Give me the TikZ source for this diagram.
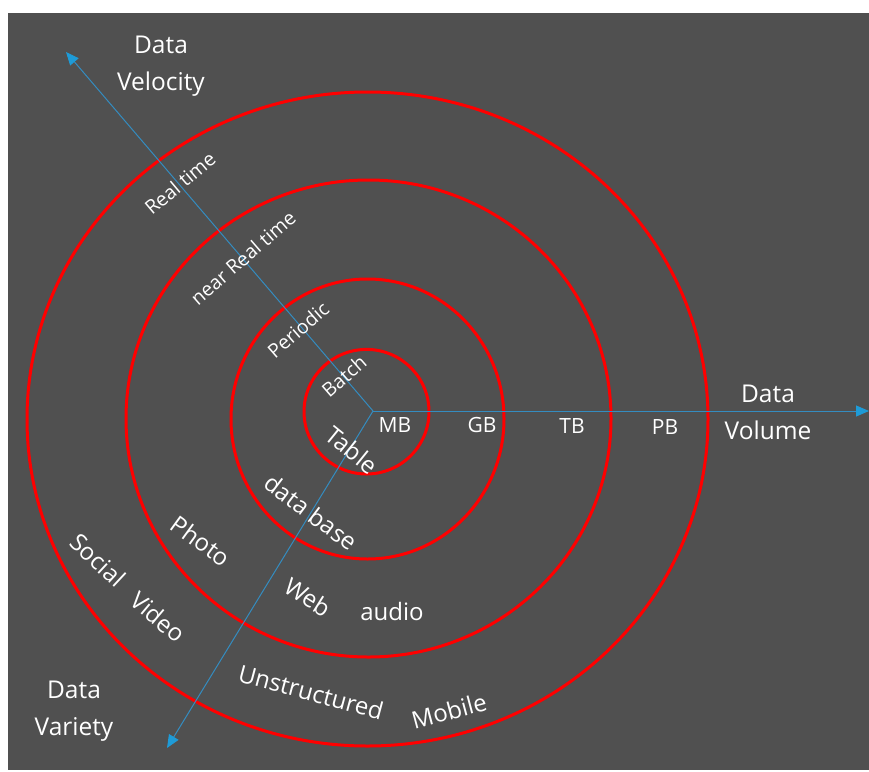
\documentclass[tikz,border=0pt]{standalone}
\usepackage{fontspec}
\setmainfont{Open Sans}
\usetikzlibrary{arrows.meta}
\definecolor{panel}{RGB}{80,80,80}
\definecolor{ring}{RGB}{255,0,0}
\definecolor{axisline}{RGB}{52,140,192}
\definecolor{axistip}{RGB}{30,155,215}
\tikzset{
  ringline/.style={draw=ring, line width=3pt},
  axisarrow/.style={draw=axisline, line width=1pt,
    -{Triangle[length=13pt,width=11pt,fill=axistip,color=axistip]}},
  smalllabel/.style={text=white, font=\fontsize{19.5}{22}\selectfont, inner sep=0pt},
  unitlabel/.style={text=white, font=\fontsize{21}{24}\selectfont, inner sep=0pt},
  biglabel/.style={text=white, font=\fontsize{24}{28}\selectfont, inner sep=0pt},
  titlelabel/.style={text=white, font=\fontsize{24.5}{37}\selectfont, align=center, inner sep=0pt},
}
\begin{document}
\begin{tikzpicture}[x=1pt,y=-1pt]
  % page and dark panel
  \useasboundingbox (0,0) rectangle (869,771);
  \fill[white] (0,0) rectangle (869,771);
  \fill[panel] (8,13) rectangle (869,770);

  % rings
  \draw[ringline] (366.5,411.7) ellipse [x radius=62.5, y radius=62.3];
  \draw[ringline] (367.5,419) ellipse [x radius=136.5, y radius=140];
  \draw[ringline] (368.5,418.5) ellipse [x radius=242.5, y radius=238.5];
  \draw[ringline] (367.5,419) ellipse [x radius=340.5, y radius=327];

  % axes
  \coordinate (origin) at (373,411);
  \coordinate (velTip) at (66,52);
  \coordinate (volTip) at (869,411);
  \coordinate (varTip) at (167,748);
  \draw[axisarrow] (origin) -- (velTip);
  \draw[axisarrow] (origin) -- (volTip);
  \draw[axisarrow] (origin) -- (varTip);

  % axis titles
  \node[titlelabel] (velTitle) at (161,66) {Data\\Velocity};
  \node[titlelabel] (volTitle) at (768,412) {Data\\Volume};
  \node[titlelabel] (varTitle) at (74,711) {Data\\Variety};

  % velocity scale
  \node[smalllabel, rotate=40] (realTime) at (180,183) {Real time};
  \node[smalllabel, rotate=41] (nearReal) at (243,258) {near Real time};
  \node[smalllabel, rotate=41] (periodic) at (298,330) {Periodic};
  \node[smalllabel, rotate=41] (batch) at (344,376) {Batch};

  % volume scale
  \node[unitlabel] (mb) at (395,425) {MB};
  \node[unitlabel] (gb) at (482,425) {GB};
  \node[unitlabel] (tb) at (572,426) {TB};
  \node[unitlabel] (pb) at (665,427) {PB};

  % variety scale
  \node[biglabel, rotate=-39] (table) at (352,450) {Table};
  \node[biglabel, rotate=-37] (database) at (311,512) {data base};
  \node[biglabel, rotate=-36] (photo) at (201,541) {Photo};
  \node[biglabel, rotate=-43] (social) at (98,560) {Social};
  \node[biglabel, rotate=-40] (video) at (158,617) {Video};
  \node[biglabel, rotate=-32] (web) at (308,597) {Web};
  \node[biglabel] (audio) at (392,611) {audio};
  \node[biglabel, rotate=-15] (unstructured) at (311,692) {Unstructured};
  \node[biglabel, rotate=15] (mobile) at (449,711) {Mobile};
\end{tikzpicture}
\end{document}
